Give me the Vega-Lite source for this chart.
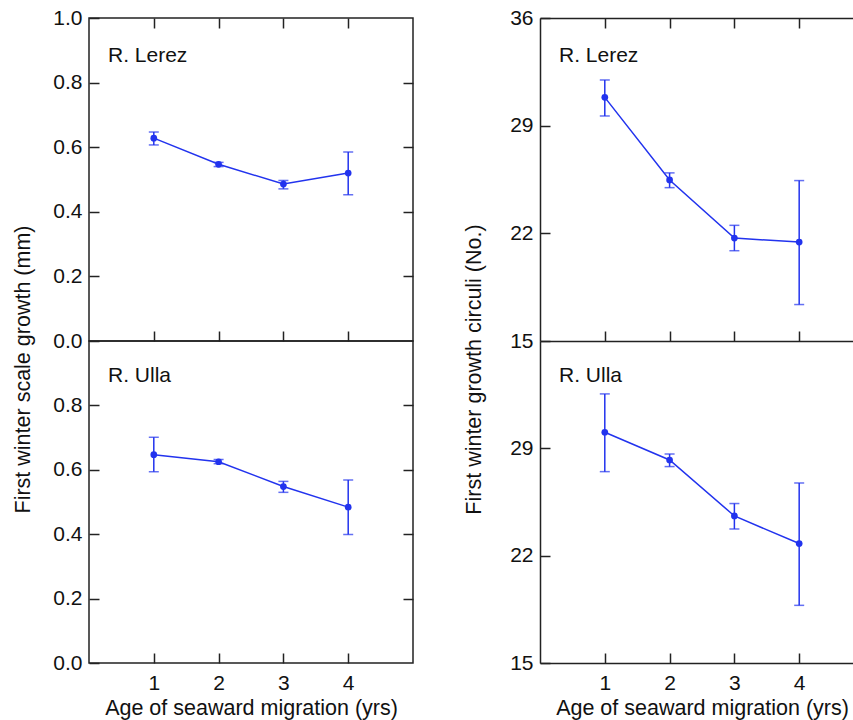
{
  "$schema": "https://vega.github.io/schema/vega-lite/v6.json",
  "padding": {"left": 11, "top": 6, "right": 0, "bottom": 0},
  "background": "white",
  "config": {
    "font": "Liberation Sans",
    "view": {"stroke": "#222", "strokeWidth": 1.5},
    "axis": {"domain": false, "domainColor": "#222", "domainWidth": 1.5, "grid": false, "tickSize": -10, "tickWidth": 1.5, "tickColor": "#222", "labelFont": "Liberation Sans", "labelFontSize": 21, "labelColor": "#111", "titleFont": "Liberation Sans", "titleFontSize": 21.5, "titleFontWeight": "normal", "titleColor": "#111"},
    "axisY": {"labelPadding": 17},
    "axisX": {"labelPadding": 19, "titlePadding": 4},
    "title": {"font": "Liberation Sans", "fontSize": 21, "fontWeight": "normal", "color": "#111", "anchor": "start", "frame": "group", "baseline": "alphabetic", "dx": 19}
  },
  "datasets": {
    "d": [
      {"measure": "scale", "river": "R. Lerez", "age": 1, "mean": 0.628, "lo": 0.607, "hi": 0.647},
      {"measure": "scale", "river": "R. Lerez", "age": 2, "mean": 0.547, "lo": 0.540, "hi": 0.553},
      {"measure": "scale", "river": "R. Lerez", "age": 3, "mean": 0.486, "lo": 0.471, "hi": 0.497},
      {"measure": "scale", "river": "R. Lerez", "age": 4, "mean": 0.520, "lo": 0.453, "hi": 0.585},
      {"measure": "scale", "river": "R. Ulla", "age": 1, "mean": 0.647, "lo": 0.594, "hi": 0.701},
      {"measure": "scale", "river": "R. Ulla", "age": 2, "mean": 0.625, "lo": 0.619, "hi": 0.632},
      {"measure": "scale", "river": "R. Ulla", "age": 3, "mean": 0.548, "lo": 0.530, "hi": 0.564},
      {"measure": "scale", "river": "R. Ulla", "age": 4, "mean": 0.484, "lo": 0.399, "hi": 0.568},
      {"measure": "circuli", "river": "R. Lerez", "age": 1, "mean": 30.84, "lo": 29.63, "hi": 31.97},
      {"measure": "circuli", "river": "R. Lerez", "age": 2, "mean": 25.47, "lo": 24.97, "hi": 25.93},
      {"measure": "circuli", "river": "R. Lerez", "age": 3, "mean": 21.69, "lo": 20.87, "hi": 22.52},
      {"measure": "circuli", "river": "R. Lerez", "age": 4, "mean": 21.43, "lo": 17.37, "hi": 25.43},
      {"measure": "circuli", "river": "R. Ulla", "age": 1, "mean": 30.05, "lo": 27.48, "hi": 32.55},
      {"measure": "circuli", "river": "R. Ulla", "age": 2, "mean": 28.24, "lo": 27.81, "hi": 28.63},
      {"measure": "circuli", "river": "R. Ulla", "age": 3, "mean": 24.59, "lo": 23.74, "hi": 25.40},
      {"measure": "circuli", "river": "R. Ulla", "age": 4, "mean": 22.79, "lo": 18.76, "hi": 26.74}
    ]
  },
  "data": {"name": "d"},
  "columns": 2,
  "spacing": {"row": 0, "column": 127},
  "bounds": "flush",
  "concat": [
    {
      "width": 324, "height": 323,
      "title": {"text": "R. Lerez", "offset": -59},
      "transform": [{"filter": "datum.measure === 'scale' && datum.river === 'R. Lerez'"}],
      "resolve": {"axis": {"x": "independent", "y": "independent"}},
      "layer": [
        {
          "mark": {"type": "errorbar", "color": "#2233ee", "thickness": 1.5, "size": 10, "ticks": true},
          "encoding": {
            "x": {"field": "age", "type": "quantitative", "scale": {"domain": [0, 5], "nice": false}, "axis": {"orient": "bottom", "values": [1, 2, 3, 4], "labels": false, "title": null}},
            "y": {"field": "lo", "type": "quantitative", "scale": {"domain": [0, 1], "nice": false}, "axis": {"orient": "left", "values": [0, 0.2, 0.4, 0.6, 0.8, 1.0], "format": ".1f", "title": "First winter scale growth (mm)", "titleX": -60, "titleY": 351, "titleBaseline": "alphabetic"}},
            "y2": {"field": "hi"}
          }
        },
        {
          "mark": {"type": "line", "color": "#2233ee", "strokeWidth": 1.5},
          "encoding": {
            "x": {"field": "age", "type": "quantitative", "axis": {"orient": "top", "values": [1, 2, 3, 4], "labels": false, "title": null}},
            "y": {"field": "mean", "type": "quantitative", "axis": {"orient": "right", "values": [0.2, 0.4, 0.6, 0.8], "labels": false, "title": null}}
          }
        },
        {
          "mark": {"type": "point", "filled": true, "opacity": 1, "color": "#2233ee", "size": 45},
          "encoding": {
            "x": {"field": "age", "type": "quantitative", "axis": null},
            "y": {"field": "mean", "type": "quantitative", "axis": null}
          }
        }
      ]
    },
    {
      "width": 314, "height": 323,
      "view": {"stroke": null},
      "title": {"text": "R. Lerez", "offset": -59},
      "transform": [{"filter": "datum.measure === 'circuli' && datum.river === 'R. Lerez'"}],
      "resolve": {"axis": {"x": "independent", "y": "independent"}},
      "layer": [
        {
          "mark": {"type": "errorbar", "color": "#2233ee", "thickness": 1.5, "size": 10, "ticks": true},
          "encoding": {
            "x": {"field": "age", "type": "quantitative", "scale": {"domain": [0, 4.846], "nice": false}, "axis": {"orient": "bottom", "values": [1, 2, 3, 4], "labels": false, "title": null, "domain": true}},
            "y": {"field": "lo", "type": "quantitative", "scale": {"domain": [15, 36], "nice": false}, "axis": {"orient": "left", "values": [15, 22, 29, 36], "domain": true, "title": "First winter growth circuli (No.)", "titleX": -60, "titleY": 351, "titleBaseline": "alphabetic"}},
            "y2": {"field": "hi"}
          }
        },
        {
          "mark": {"type": "line", "color": "#2233ee", "strokeWidth": 1.5},
          "encoding": {
            "x": {"field": "age", "type": "quantitative", "axis": {"orient": "top", "values": [1, 2, 3, 4], "labels": false, "title": null, "domain": true}},
            "y": {"field": "mean", "type": "quantitative", "axis": null}
          }
        },
        {
          "mark": {"type": "point", "filled": true, "opacity": 1, "color": "#2233ee", "size": 45},
          "encoding": {
            "x": {"field": "age", "type": "quantitative", "axis": null},
            "y": {"field": "mean", "type": "quantitative", "axis": null}
          }
        }
      ]
    },
    {
      "width": 324, "height": 322,
      "title": {"text": "R. Ulla", "offset": -45},
      "transform": [{"filter": "datum.measure === 'scale' && datum.river === 'R. Ulla'"}],
      "resolve": {"axis": {"x": "independent", "y": "independent"}},
      "layer": [
        {
          "mark": {"type": "errorbar", "color": "#2233ee", "thickness": 1.5, "size": 10, "ticks": true},
          "encoding": {
            "x": {"field": "age", "type": "quantitative", "scale": {"domain": [0, 5], "nice": false}, "axis": {"orient": "bottom", "values": [1, 2, 3, 4], "title": "Age of seaward migration (yrs)"}},
            "y": {"field": "lo", "type": "quantitative", "scale": {"domain": [0, 1], "nice": false}, "axis": {"orient": "left", "values": [0, 0.2, 0.4, 0.6, 0.8], "format": ".1f", "title": null}},
            "y2": {"field": "hi"}
          }
        },
        {
          "mark": {"type": "line", "color": "#2233ee", "strokeWidth": 1.5},
          "encoding": {
            "x": {"field": "age", "type": "quantitative", "axis": null},
            "y": {"field": "mean", "type": "quantitative", "axis": {"orient": "right", "values": [0.2, 0.4, 0.6, 0.8], "labels": false, "title": null}}
          }
        },
        {
          "mark": {"type": "point", "filled": true, "opacity": 1, "color": "#2233ee", "size": 45},
          "encoding": {
            "x": {"field": "age", "type": "quantitative", "axis": null},
            "y": {"field": "mean", "type": "quantitative", "axis": null}
          }
        }
      ]
    },
    {
      "width": 314, "height": 322,
      "view": {"stroke": null},
      "title": {"text": "R. Ulla", "offset": -45},
      "transform": [{"filter": "datum.measure === 'circuli' && datum.river === 'R. Ulla'"}],
      "resolve": {"axis": {"x": "independent", "y": "independent"}},
      "layer": [
        {
          "mark": {"type": "errorbar", "color": "#2233ee", "thickness": 1.5, "size": 10, "ticks": true},
          "encoding": {
            "x": {"field": "age", "type": "quantitative", "scale": {"domain": [0, 4.846], "nice": false}, "axis": {"orient": "bottom", "values": [1, 2, 3, 4], "domain": true, "title": "Age of seaward migration (yrs)", "titleX": 162}},
            "y": {"field": "lo", "type": "quantitative", "scale": {"domain": [15, 36], "nice": false}, "axis": {"orient": "left", "values": [15, 22, 29], "domain": true, "title": null}},
            "y2": {"field": "hi"}
          }
        },
        {
          "mark": {"type": "line", "color": "#2233ee", "strokeWidth": 1.5},
          "encoding": {
            "x": {"field": "age", "type": "quantitative", "axis": null},
            "y": {"field": "mean", "type": "quantitative", "axis": null}
          }
        },
        {
          "mark": {"type": "point", "filled": true, "opacity": 1, "color": "#2233ee", "size": 45},
          "encoding": {
            "x": {"field": "age", "type": "quantitative", "axis": null},
            "y": {"field": "mean", "type": "quantitative", "axis": null}
          }
        }
      ]
    }
  ]
}
